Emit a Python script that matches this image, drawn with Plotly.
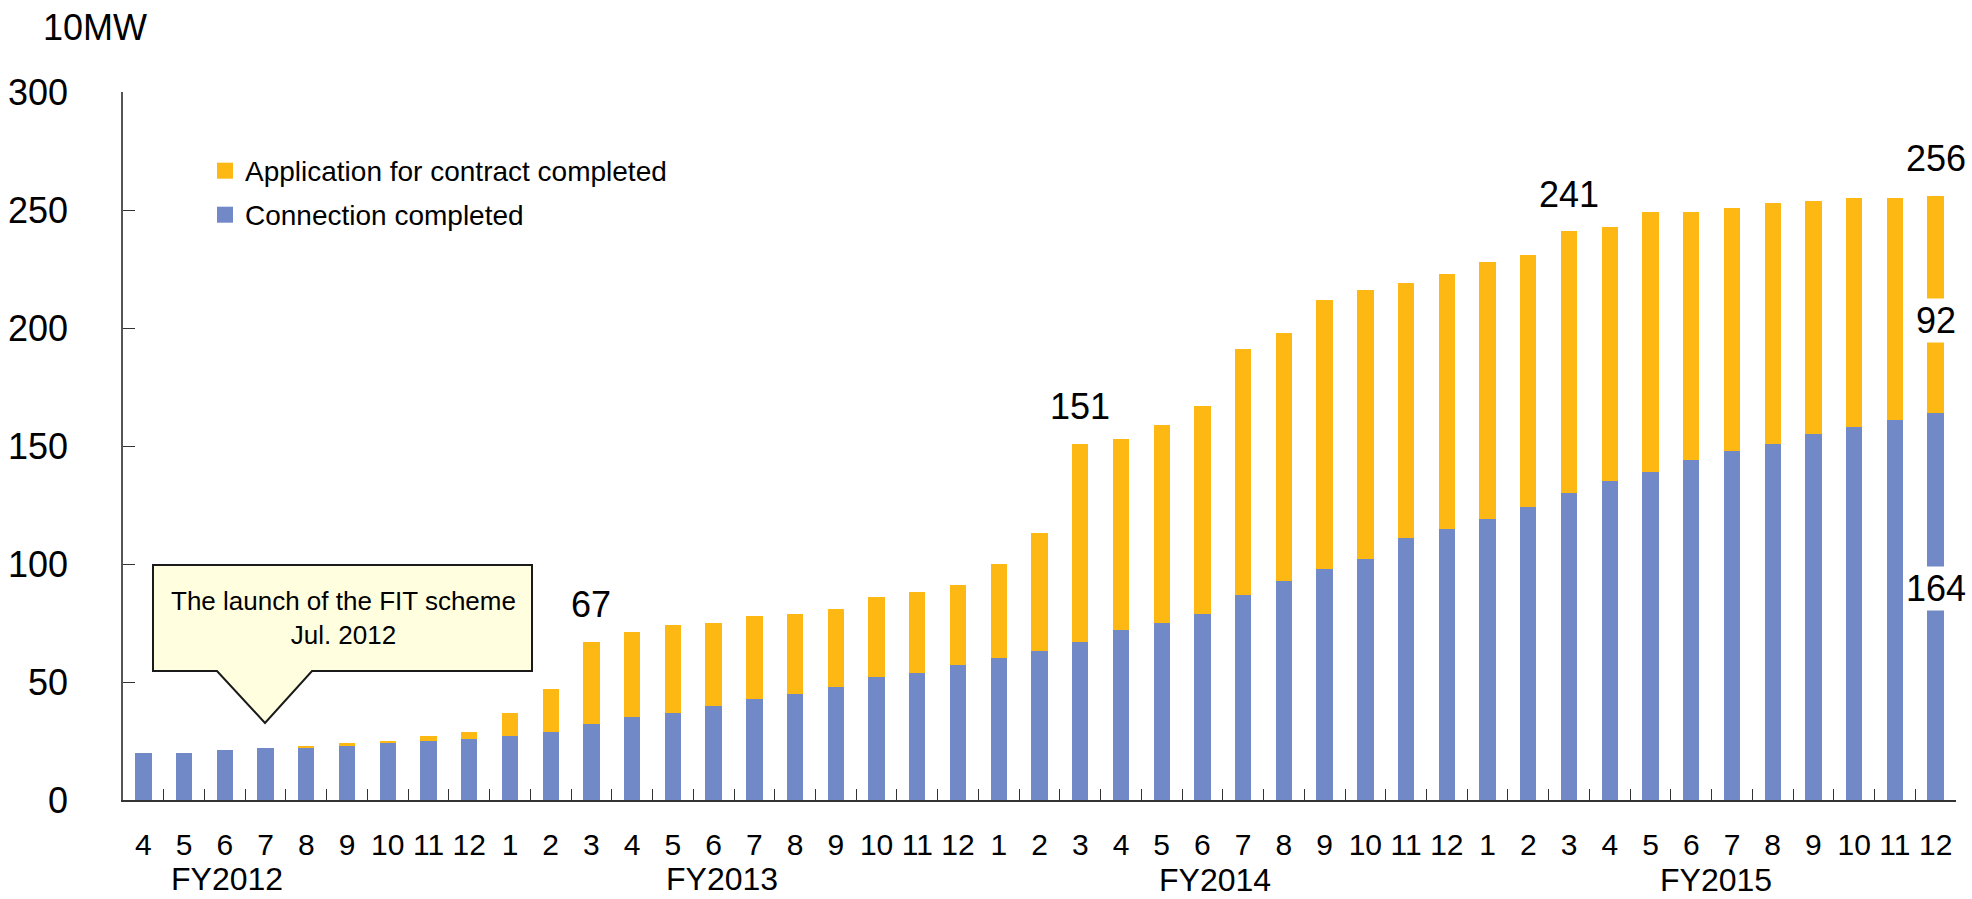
import plotly.graph_objects as go

# Monthly cumulative capacity (unit: 10MW), FY2012 April .. FY2015 December
fiscal_years = ["FY2012", "FY2013", "FY2014", "FY2015"]
months_full_year = [4, 5, 6, 7, 8, 9, 10, 11, 12, 1, 2, 3]
months_fy2015 = [4, 5, 6, 7, 8, 9, 10, 11, 12]

connection_completed = [
    20, 20, 21, 22, 22, 23, 24, 25, 26, 27, 29, 32,
    35, 37, 40, 43, 45, 48, 52, 54, 57, 60, 63, 67,
    72, 75, 79, 87, 93, 98, 102, 111, 115, 119, 124, 130,
    135, 139, 144, 148, 151, 155, 158, 161, 164,
]
application_completed = [
    0, 0, 0, 0, 1, 1, 1, 2, 3, 10, 18, 35,
    36, 37, 35, 35, 34, 33, 34, 34, 34, 40, 50, 84,
    81, 84, 88, 104, 105, 114, 114, 108, 108, 109, 107, 111,
    108, 110, 105, 103, 102, 99, 97, 94, 92,
]

# category ids and the month number shown under each bar
month_lists = [months_full_year] * 3 + [months_fy2015]
categories, month_labels = [], []
for fy, months in zip(fiscal_years, month_lists):
    for m in months:
        categories.append(f"{fy}-{m}")
        month_labels.append(str(m))

totals = [c + a for c, a in zip(connection_completed, application_completed)]
labelled_totals = ["FY2012-3", "FY2013-3", "FY2014-3", "FY2015-12"]

BLUE = "#7189C6"
YELLOW = "#FDB813"
FONT = "Liberation Sans, Arial, sans-serif"

# plot area in pixels
W, H = 1972, 899
L, R, T, B = 123, 1956, 92, 800


def px(x):
    return (x - L) / (R - L)


def py(y):
    return (B - y) / (B - T)


fig = go.Figure()
fig.add_trace(go.Bar(
    x=categories, y=connection_completed, name="Connection completed",
    marker=dict(color=BLUE, line=dict(width=0)),
))
fig.add_trace(go.Bar(
    x=categories, y=application_completed, name="Application for contract completed",
    marker=dict(color=YELLOW, line=dict(width=0)),
))

annotations = []

# totals above selected bars
for cat in labelled_totals:
    i = categories.index(cat)
    annotations.append(dict(
        x=cat, y=totals[i], xref="x", yref="y", text=str(totals[i]),
        showarrow=False, yanchor="middle", yshift=37,
        font=dict(family=FONT, size=36, color="#000"),
    ))

# segment values on the latest bar, on white boxes cutting through the bar
last = categories[-1]
annotations.append(dict(
    x=last, y=connection_completed[-1] + application_completed[-1] / 2,
    xref="x", yref="y", text=str(application_completed[-1]),
    showarrow=False, yanchor="middle", yshift=-16, bgcolor="white", borderpad=1,
    font=dict(family=FONT, size=36, color="#000"),
))
annotations.append(dict(
    x=last, y=connection_completed[-1] / 2,
    xref="x", yref="y", text=str(connection_completed[-1]),
    showarrow=False, yanchor="middle", yshift=18, bgcolor="white", borderpad=1,
    font=dict(family=FONT, size=36, color="#000"),
))

# fiscal-year labels under the month numbers
fy_positions = [(2.05, 879), (14.2, 879), (26.3, 880), (38.6, 880)]
n = len(categories)
for fy, (idx, ypix) in zip(fiscal_years, fy_positions):
    annotations.append(dict(
        x=(idx + 0.5) / n, y=py(ypix), xref="paper", yref="paper", text=fy,
        showarrow=False, xanchor="center", yanchor="middle",
        font=dict(family=FONT, size=32, color="#000"),
    ))

# unit label
annotations.append(dict(
    x=px(95), y=py(27), xref="paper", yref="paper", text="10MW",
    showarrow=False, xanchor="center", yanchor="middle",
    font=dict(family=FONT, size=36, color="#000"),
))

# legend drawn by hand
shapes = []
legend_rows = [("Application for contract completed", YELLOW, 170.7),
               ("Connection completed", BLUE, 214.7)]
for text, color, ycen in legend_rows:
    shapes.append(dict(
        type="rect", xref="paper", yref="paper",
        x0=px(217), x1=px(233), y0=py(ycen + 8), y1=py(ycen - 8),
        fillcolor=color, line=dict(width=0),
    ))
    annotations.append(dict(
        x=px(243), y=py(ycen + 1), xref="paper", yref="paper", text=text,
        showarrow=False, xanchor="left", yanchor="middle",
        font=dict(family=FONT, size=28, color="#000"),
    ))

# callout for the launch of the FIT scheme
bx0, bx1, by0, by1 = 153, 532, 565, 671
tx0, tx1, tipx, tipy = 217, 312, 265, 723
path = (
    f"M {px(bx0)} {py(by0)} L {px(bx1)} {py(by0)} L {px(bx1)} {py(by1)} "
    f"L {px(tx1)} {py(by1)} L {px(tipx)} {py(tipy)} L {px(tx0)} {py(by1)} "
    f"L {px(bx0)} {py(by1)} Z"
)
shapes.append(dict(
    type="path", path=path, xref="paper", yref="paper",
    fillcolor="#FFFFE0", line=dict(color="#1a1a1a", width=2), layer="above",
))
annotations.append(dict(
    x=px(343), y=py(618), xref="paper", yref="paper",
    text="The launch of the FIT scheme<br>Jul. 2012",
    showarrow=False, xanchor="center", yanchor="middle", align="center",
    font=dict(family=FONT, size=26, color="#000"),
))

fig.update_layout(
    width=W, height=H,
    margin=dict(l=L, r=W - R, t=T, b=H - B, pad=0, autoexpand=False),
    barmode="stack", bargap=0.6,
    paper_bgcolor="white", plot_bgcolor="white",
    showlegend=False,
    font=dict(family=FONT, color="#000"),
    annotations=annotations, shapes=shapes,
)
fig.update_xaxes(
    type="category", categoryorder="array", categoryarray=categories,
    tickmode="array", tickvals=categories, ticktext=month_labels,
    tickson="boundaries", ticks="inside", ticklen=11, tickwidth=1.2, tickcolor="#333",
    showline=True, linecolor="#333", linewidth=1.5, showgrid=False,
    tickfont=dict(family=FONT, size=30, color="#000"), ticklabelstandoff=17,
    tickangle=0, automargin=False,
    range=[-0.5, n - 0.5], fixedrange=True,
)
fig.update_yaxes(
    range=[0, 300], dtick=50, tick0=0,
    ticks="inside", ticklen=12, tickwidth=1.2, tickcolor="#333",
    showline=True, linecolor="#555", linewidth=1.5, showgrid=False, zeroline=False,
    tickfont=dict(family=FONT, size=36, color="#000"), ticklabelstandoff=46,
    automargin=False, fixedrange=True,
)

fig.write_html("out.html")
